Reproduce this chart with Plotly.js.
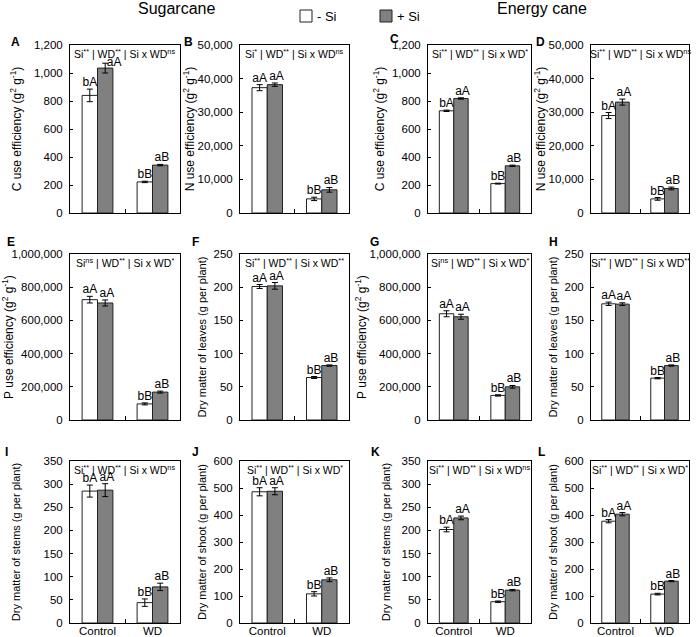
<!DOCTYPE html>
<html>
<head>
<meta charset="utf-8">
<script src="https://cdn.plot.ly/plotly-3.0.1.min.js"></script>
<style>html,body{margin:0;padding:0;background:#fff;}#chart{width:700px;height:637px;}</style>
</head>
<body>
<div id="chart"></div>
<script>
// ---------- DATA ----------
const categories = ['Control', 'WD'];
const panelLetters = ['A','B','C','D','E','F','G','H','I','J','K','L'];
const yTitles = [
  'C use efficiency (g<sup>2</sup> g<sup>-1</sup>)',
  'N use efficiency (g<sup>2</sup> g<sup>-1</sup>)',
  'C use efficiency (g<sup>2</sup> g<sup>-1</sup>)',
  'N use efficiency (g<sup>2</sup> g<sup>-1</sup>)',
  'P use efficiency (g<sup>2</sup> g<sup>-1</sup>)',
  'Dry matter of leaves (g per plant)',
  'P use efficiency (g<sup>2</sup> g<sup>-1</sup>)',
  'Dry matter of leaves (g per plant)',
  'Dry matter of stems (g per plant)',
  'Dry matter of shoot (g per plant)',
  'Dry matter of stems (g per plant)',
  'Dry matter of shoot (g per plant)'
];
const statTexts = [
  'Si<sup>**</sup> | WD<sup>**</sup> | Si x WD<sup>ns</sup>',
  'Si<sup>*</sup> | WD<sup>**</sup> | Si x WD<sup>ns</sup>',
  'Si<sup>**</sup> | WD<sup>**</sup> | Si x WD<sup>*</sup>',
  'Si<sup>**</sup> | WD<sup>**</sup> | Si x WD<sup>ns</sup>',
  'Si<sup>ns</sup> | WD<sup>**</sup> | Si x WD<sup>*</sup>',
  'Si<sup>**</sup> | WD<sup>**</sup> | Si x WD<sup>**</sup>',
  'Si<sup>ns</sup> | WD<sup>**</sup> | Si x WD<sup>*</sup>',
  'Si<sup>**</sup> | WD<sup>**</sup> | Si x WD<sup>**</sup>',
  'Si<sup>**</sup> | WD<sup>**</sup> | Si x WD<sup>ns</sup>',
  'Si<sup>**</sup> | WD<sup>**</sup> | Si x WD<sup>*</sup>',
  'Si<sup>**</sup> | WD<sup>**</sup> | Si x WD<sup>ns</sup>',
  'Si<sup>**</sup> | WD<sup>**</sup> | Si x WD<sup>*</sup>'
];
// -Si series (Control, WD) per panel
const minusSiMean = [[840,222],[37300,4200],[730,210],[29000,4200],[725000,97000],[201,64],[640000,148000],[175,63],[285,44],[486,108],[202,46],[377,107]];
const minusSiErr  = [[45,5],[900,500],[5,3],[900,400],[20000,6000],[3,1.5],[18000,4000],[2.5,1],[13,8],[15,8],[5,1.5],[6,3]];
const minusSiLetters = [['bA','bB'],['aA','bB'],['bA','bB'],['bA','bB'],['aA','bB'],['aA','bB'],['aA','bB'],['aA','bB'],['bA','bB'],['bA','bB'],['bA','bB'],['bA','bB']];
// +Si series
const plusSiMean = [[1035,342],[38200,6900],[818,337],[33000,7300],[705000,168000],[202,82],[622000,200000],[174.5,82],[287,78],[488,160],[227,71],[403,155]];
const plusSiErr  = [[35,5],[500,700],[5,5],[900,400],[18000,6000],[5,1],[15000,8000],[2,1],[14,8],[13,7],[4,1.5],[6,2]];
const plusSiLetters = [['aA','aB'],['aA','aB'],['aA','aB'],['aA','aB'],['aA','aB'],['aA','aB'],['aA','aB'],['aA','aB'],['aA','aB'],['aA','aB'],['aA','aB'],['aA','aB']];
// axis ranges / ticks
const yMax  = [1200,50000,1200,50000,1000000,250,1000000,250,350,600,350,600];
const yStep = [200,10000,200,10000,200000,50,200000,50,50,100,50,100];

// ---------- LAYOUT GEOMETRY ----------
const W = 700, H = 637;
const colX = [[70,180],[240,349],[428,531],[591,689]];
const rowY = [[45,213],[254,420],[461,623]];
const letterPos = [[9,42],[182,42],[388,39],[534,42],[5,242],[190,242],[368,242],[547,242],[3,452],[190,452],[369,452],[536,452]];
const titleStandoff = [9,0,4,0,0,4,0,4,20,4,8,4];
const titleSize = [12,12,12,12,12,11,12,11,11,11,11,11];
// label placement for the +Si letters (panel A control label sits beside its error cap)
const plusLabelPos = [['middle right','top center']].concat(Array(11).fill(['top center','top center']));
const BAR_W = 0.28;
const FONT = 'Liberation Sans, Arial, sans-serif';

const data = [];
const layout = {
  width: W, height: H,
  margin: {l:0, r:0, t:0, b:0},
  paper_bgcolor: '#fff', plot_bgcolor: '#fff',
  showlegend: false,
  font: {family: FONT, size: 11, color: '#000'},
  annotations: [], shapes: []
};

for (let i = 0; i < 12; i++) {
  const row = Math.floor(i / 4), col = i % 4;
  const n = i + 1;
  const xa = 'x' + (n === 1 ? '' : n), ya = 'y' + (n === 1 ? '' : n);
  const xKey = 'xaxis' + (n === 1 ? '' : n), yKey = 'yaxis' + (n === 1 ? '' : n);
  const idx = categories.map((c, k) => k);

  data.push({
    type: 'bar', x: idx, y: minusSiMean[i], xaxis: xa, yaxis: ya,
    width: BAR_W, offset: -BAR_W, name: '- Si',
    marker: {color: '#ffffff', line: {color: '#222', width: 1}},
    error_y: {type: 'data', array: minusSiErr[i], color: '#000', thickness: 1, width: 3},
    hoverinfo: 'y'
  });
  data.push({
    type: 'bar', x: idx, y: plusSiMean[i], xaxis: xa, yaxis: ya,
    width: BAR_W, offset: 0, name: '+ Si',
    marker: {color: '#808080', line: {color: '#222', width: 1}},
    error_y: {type: 'data', array: plusSiErr[i], color: '#000', thickness: 1, width: 3},
    hoverinfo: 'y'
  });
  // significance letters above error bars
  data.push({
    type: 'scatter', mode: 'text', xaxis: xa, yaxis: ya,
    x: idx.map(k => k - BAR_W / 2),
    y: minusSiMean[i].map((v, k) => v + minusSiErr[i][k]),
    text: minusSiLetters[i], textposition: 'top center', marker: {size: 1},
    textfont: {size: 12, color: '#000', family: FONT}, hoverinfo: 'skip'
  });
  data.push({
    type: 'scatter', mode: 'text', xaxis: xa, yaxis: ya,
    x: idx.map(k => k + BAR_W / 2 + 0.03),
    y: plusSiMean[i].map((v, k) => v + plusSiErr[i][k]),
    text: plusSiLetters[i], textposition: plusLabelPos[i], marker: {size: 1},
    textfont: {size: 12, color: '#000', family: FONT}, hoverinfo: 'skip'
  });

  layout[xKey] = {
    domain: [colX[col][0] / W, colX[col][1] / W],
    anchor: ya, range: [-0.5, 1.5], fixedrange: true,
    showline: true, linecolor: '#000', linewidth: 1, mirror: true,
    showgrid: false, zeroline: false,
    tickvals: idx, ticktext: categories, ticks: '',
    showticklabels: row === 2, ticklabelstandoff: -3,
    tickfont: {size: 11.5, color: '#000'},
    minor: {tickvals: [0.5], ticks: 'inside', ticklen: 4, tickcolor: '#000', tickwidth: 1, showgrid: false}
  };
  layout[yKey] = {
    domain: [1 - rowY[row][1] / H, 1 - rowY[row][0] / H],
    anchor: xa, range: [0, yMax[i]], fixedrange: true,
    showline: true, linecolor: '#000', linewidth: 1, mirror: true,
    showgrid: false, zeroline: false,
    tick0: 0, dtick: yStep[i], tickformat: ',d',
    ticks: 'inside', ticklen: 3, tickcolor: '#000', ticklabelstandoff: 4,
    tickfont: {size: 11.5, color: '#000'},
    title: {text: yTitles[i], font: {size: titleSize[i], color: '#000'}, standoff: titleStandoff[i]}
  };

  // statistics text inside top of panel
  layout.annotations.push({
    xref: xa + ' domain', yref: ya + ' domain', x: 0.5, y: 1,
    xanchor: 'center', yanchor: 'top', yshift: 0, showarrow: false,
    text: statTexts[i], font: {size: 10.5, color: '#000'}
  });
  // panel letter
  layout.annotations.push({
    xref: 'paper', yref: 'paper', x: letterPos[i][0] / W, y: 1 - letterPos[i][1] / H,
    xanchor: 'left', yanchor: 'middle', showarrow: false,
    text: '<b>' + panelLetters[i] + '</b>', font: {size: 12, color: '#000'}
  });
}

// column titles
layout.annotations.push({xref:'paper', yref:'paper', x:177/W, y:1-9/H, xanchor:'center', yanchor:'middle', showarrow:false, text:'Sugarcane', font:{size:16, color:'#000'}});
layout.annotations.push({xref:'paper', yref:'paper', x:542/W, y:1-9/H, xanchor:'center', yanchor:'middle', showarrow:false, text:'Energy cane', font:{size:16, color:'#000'}});
// legend (swatches + labels)
const legendNames = ['- Si', '+ Si'];
const legendFill = ['#ffffff', '#808080'];
const legendX = [300, 380];
legendNames.forEach((name, k) => {
  layout.shapes.push({type:'rect', xref:'paper', yref:'paper',
    x0: legendX[k] / W, x1: (legendX[k] + 12) / W, y0: 1 - 22 / H, y1: 1 - 10 / H,
    fillcolor: legendFill[k], line: {color: '#222', width: 1}});
  layout.annotations.push({xref:'paper', yref:'paper', x:(legendX[k] + 15) / W, y:1 - 16 / H,
    xanchor:'left', yanchor:'middle', showarrow:false, text:name, font:{size:13, color:'#000'}});
});

Plotly.newPlot('chart', data, layout, {staticPlot: true, displayModeBar: false});
</script>
</body>
</html>
